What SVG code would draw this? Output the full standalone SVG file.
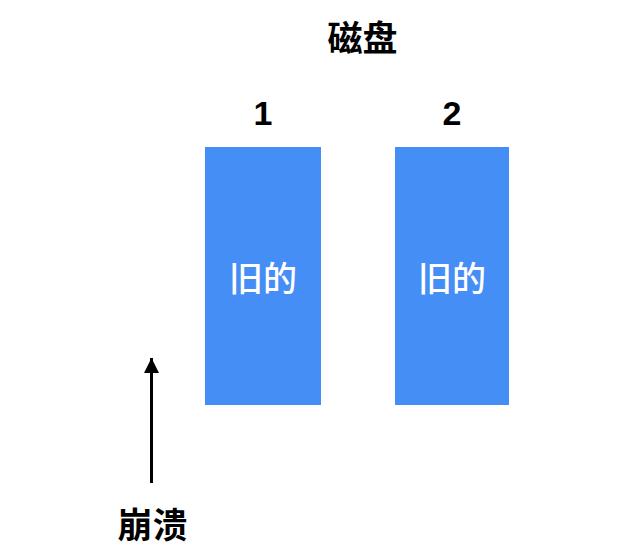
<svg xmlns="http://www.w3.org/2000/svg" width="621" height="553" viewBox="0 0 621 553">
<style>
.box{fill:#448ef6}
.title{font-family:"Noto Sans CJK SC","Liberation Sans",sans-serif;font-size:35px;font-weight:bold;fill:#000;text-anchor:middle}
.num{font-family:"Liberation Sans",Arial,sans-serif;font-size:34px;font-weight:bold;fill:#000;text-anchor:middle}
.inner{font-family:"Noto Sans CJK SC",sans-serif;font-size:34px;font-weight:500;fill:#fff;text-anchor:middle}
</style>
<defs>
<marker id="ah" markerWidth="5" markerHeight="5" refX="5" refY="2.5" orient="auto" markerUnits="strokeWidth">
<path d="M0,0 L5,2.5 L0,5 Z" fill="#000"/>
</marker>
</defs>
<rect width="621" height="553" fill="#fff"/>
<g id="label-disk"><text class="title" x="362.5" y="51">磁盘</text></g>
<g id="disk1">
<text class="num" x="263" y="125">1</text>
<rect class="box" x="205" y="147" width="116" height="258"/>
<text class="inner" x="263" y="291">旧的</text>
</g>
<g id="disk2">
<text class="num" x="452" y="125">2</text>
<rect class="box" x="395" y="147" width="114" height="258"/>
<text class="inner" x="452" y="291">旧的</text>
</g>
<g id="label-crash"><text class="title" x="152.5" y="538">崩溃</text></g>
<g id="connectors">
<line x1="151.5" y1="483" x2="151.5" y2="358" stroke="#000" stroke-width="3" marker-end="url(#ah)"/>
</g>
</svg>
